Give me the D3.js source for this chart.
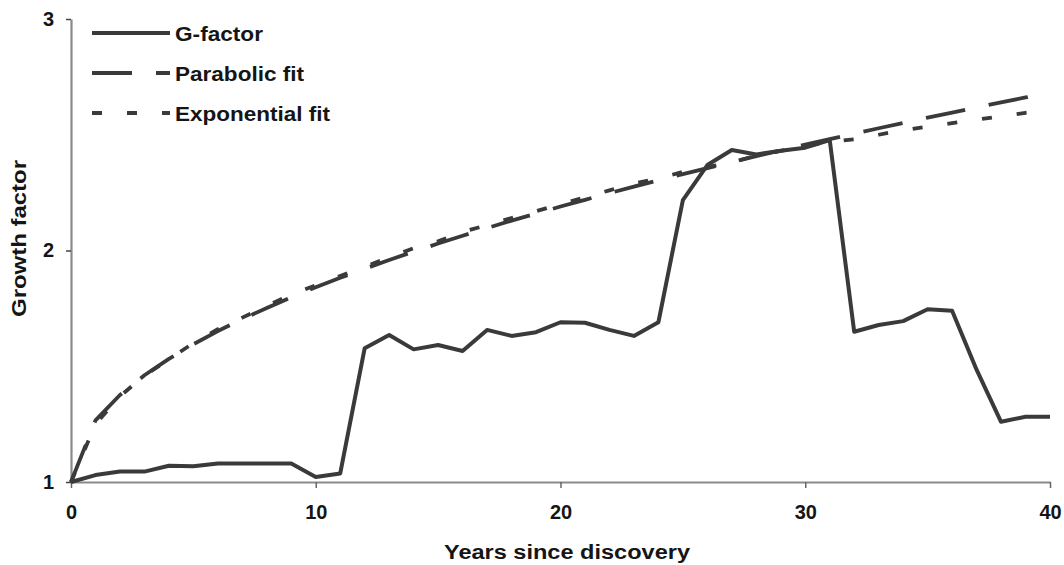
<!DOCTYPE html>
<html>
<head>
<meta charset="utf-8">
<script src="https://cdn.jsdelivr.net/npm/d3@7"></script>
<style>
  html, body { margin: 0; padding: 0; background: #fff; }
  svg { display: block; }
  text { font-family: "Liberation Sans", Arial, Helvetica, sans-serif; font-weight: bold; fill: #151515; }
</style>
</head>
<body>
<svg id="chart" width="1064" height="565"></svg>
<script>
// ---- data ----
const years = d3.range(0, 41);
const gFactor = [1.00, 1.03, 1.045, 1.045, 1.07, 1.068, 1.08, 1.08, 1.08, 1.08,
                 1.022, 1.037, 1.578, 1.635, 1.573, 1.592, 1.566, 1.657, 1.631, 1.647,
                 1.69, 1.688, 1.657, 1.631, 1.69, 2.218, 2.369, 2.434, 2.415, 2.431,
                 2.444, 2.477, 1.649, 1.678, 1.695, 1.746, 1.74, 1.485, 1.26, 1.282, 1.282];
const parabolicFit = [1.000, 1.266, 1.376, 1.461, 1.532, 1.595, 1.652, 1.704, 1.752, 1.798,
                      1.841, 1.882, 1.921, 1.959, 1.995, 2.030, 2.064, 2.097, 2.129, 2.159,
                      2.190, 2.219, 2.248, 2.276, 2.303, 2.330, 2.356, 2.382, 2.408, 2.432,
                      2.457, 2.481, 2.505, 2.528, 2.551, 2.574, 2.596, 2.618, 2.640, 2.661, 2.682];
const exponentialFit = [1.00, 1.25, 1.37, 1.46, 1.53, 1.60, 1.66, 1.71, 1.76, 1.81,
                        1.85, 1.89, 1.93, 1.97, 2.01, 2.04, 2.08, 2.11, 2.14, 2.17,
                        2.20, 2.23, 2.26, 2.29, 2.31, 2.34, 2.36, 2.38, 2.41, 2.43,
                        2.45, 2.47, 2.48, 2.50, 2.52, 2.535, 2.55, 2.565, 2.58, 2.595, 2.607];
const xTicks = [0, 10, 20, 30, 40];
const yTicks = [1, 2, 3];
const seriesNames = ["G-factor", "Parabolic fit", "Exponential fit"];
const xTitle = "Years since discovery";
const yTitle = "Growth factor";

// ---- drawing ----
const svg = d3.select("#chart");
const x = d3.scaleLinear().domain([0, 40]).range([71, 1050]);
const y = d3.scaleLinear().domain([1, 3]).range([482, 19]);

const axisColor = "#8a8a8a";
const lineColor = "#3a3a3a";

// x axis
const gx = svg.append("g").attr("transform", `translate(0,${y(1)})`)
  .call(d3.axisBottom(x).tickValues(xTicks).tickSize(6).tickSizeOuter(0).tickPadding(17).tickFormat(d3.format("d")));
gx.select(".domain").attr("stroke", axisColor).attr("stroke-width", 2.2);
gx.selectAll(".tick line").attr("stroke", "#666").attr("stroke-width", 1.5);
gx.selectAll(".tick text").style("font-size", "20px").attr("fill", "#151515");

// y axis
const gy = svg.append("g").attr("transform", `translate(${x(0)},0)`)
  .call(d3.axisLeft(y).tickValues(yTicks).tickSize(5).tickSizeOuter(0).tickPadding(12).tickFormat(d3.format("d")));
gy.select(".domain").attr("stroke", axisColor).attr("stroke-width", 2.2);
gy.selectAll(".tick line").attr("stroke", "#444").attr("stroke-width", 1.5);
gy.selectAll(".tick text").style("font-size", "20px").attr("fill", "#151515");

// axis titles
svg.append("text")
  .attr("x", 444).attr("y", 559)
  .attr("textLength", 246).attr("lengthAdjust", "spacingAndGlyphs")
  .style("font-size", "20px")
  .text(xTitle);
svg.append("text")
  .attr("transform", "translate(26,317) rotate(-90)")
  .attr("x", 0).attr("y", 0)
  .attr("textLength", 157).attr("lengthAdjust", "spacingAndGlyphs")
  .style("font-size", "20px")
  .text(yTitle);

// lines
const line = d3.line().x((d, i) => x(years[i])).y(d => y(d));
const styles = [
  { data: gFactor, dash: null, width: 4 },
  { data: parabolicFit, dash: "40,24", width: 3.8 },
  { data: exponentialFit, dash: "10,25", width: 3.8 }
];
// draw fits then g-factor on top
[styles[1], styles[2], styles[0]].forEach(s => {
  svg.append("path")
    .datum(s.data)
    .attr("d", line)
    .attr("fill", "none")
    .attr("stroke", lineColor)
    .attr("stroke-width", s.width)
    .attr("stroke-linejoin", "round")
    .attr("stroke-dasharray", s.dash);
});

// legend
const legY = [33, 73, 113];
const legTextLen = [88, 129, 155];
seriesNames.forEach((name, i) => {
  svg.append("line")
    .attr("x1", 92).attr("x2", 170)
    .attr("y1", legY[i]).attr("y2", legY[i])
    .attr("stroke", lineColor)
    .attr("stroke-width", styles[i].width)
    .attr("stroke-dasharray", styles[i].dash);
  svg.append("text")
    .attr("x", 175).attr("y", legY[i] + 8)
    .attr("textLength", legTextLen[i]).attr("lengthAdjust", "spacingAndGlyphs")
    .style("font-size", "20px")
    .text(name);
});
</script>
</body>
</html>
